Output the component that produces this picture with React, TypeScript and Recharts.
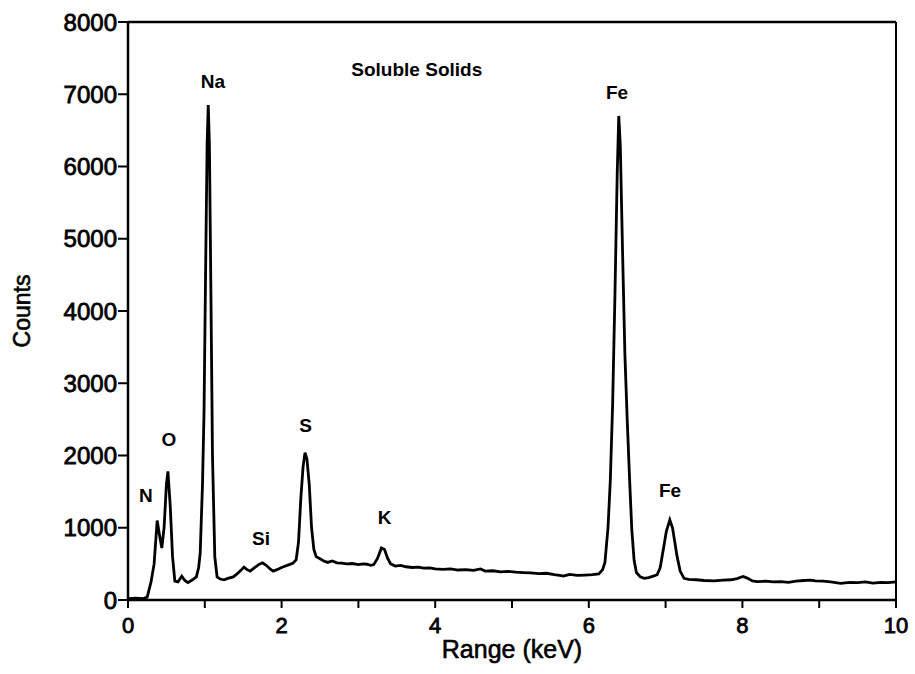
import {
  LineChart,
  Line,
  XAxis,
  YAxis,
  ReferenceLine,
  ReferenceDot,
} from "recharts";

// EDS spectrum of the soluble solids, energy (keV) against counts
const energy = [
  0.0, 0.1, 0.2, 0.25, 0.3, 0.34, 0.38, 0.41, 0.44, 0.47, 0.5, 0.52, 0.55,
  0.58, 0.61, 0.65, 0.7, 0.74, 0.78, 0.84, 0.89, 0.92, 0.94, 0.97, 0.99, 1.01,
  1.03, 1.045, 1.06, 1.08, 1.1, 1.13, 1.16, 1.2, 1.25, 1.3, 1.37, 1.42, 1.47,
  1.51, 1.55, 1.59, 1.64, 1.7, 1.75, 1.8, 1.85, 1.89, 1.94, 2.0, 2.05, 2.1,
  2.15, 2.19, 2.22, 2.25, 2.28, 2.305, 2.33, 2.36, 2.39, 2.42, 2.45, 2.5, 2.55,
  2.6, 2.66, 2.72, 2.78, 2.85, 2.92, 3.0, 3.06, 3.11, 3.16, 3.2, 3.25, 3.3,
  3.34, 3.38, 3.42, 3.48, 3.55, 3.62, 3.7, 3.78, 3.85, 3.93, 4.0, 4.1, 4.2,
  4.3, 4.4, 4.5, 4.59, 4.65, 4.75, 4.85, 4.95, 5.05, 5.15, 5.24, 5.35, 5.45,
  5.55, 5.62, 5.67, 5.75, 5.85, 5.95, 6.05, 6.13, 6.18, 6.21, 6.25, 6.28, 6.31,
  6.34, 6.37, 6.39, 6.41, 6.44, 6.47, 6.5, 6.53, 6.56, 6.59, 6.62, 6.67, 6.72,
  6.78, 6.84, 6.89, 6.93, 6.97, 7.01, 7.055, 7.09, 7.12, 7.15, 7.19, 7.24, 7.3,
  7.4, 7.5, 7.63, 7.75, 7.85, 7.93, 8.01, 8.07, 8.13, 8.19, 8.3, 8.4, 8.5, 8.6,
  8.7, 8.8, 8.89, 8.95, 9.05, 9.15, 9.28, 9.4, 9.5, 9.6, 9.7, 9.8, 9.9, 10.0,
];

const counts = [
  20, 25, 20, 40, 250, 500, 1100, 900, 720, 1000, 1600, 1780, 1300, 600, 260,
  250, 330, 270, 240, 280, 320, 450, 650, 1600, 2600, 4500, 6300, 6850, 6300,
  4200, 2000, 600, 320, 290, 280, 300, 320, 360, 410, 455, 420, 400, 440, 490,
  515, 480, 430, 400, 420, 450, 470, 490, 510, 560, 800, 1400, 1850, 2040, 1950,
  1600, 1000, 700, 600, 570, 540, 520, 540, 515, 510, 500, 505, 490, 500, 495,
  480, 490, 580, 720, 700, 580, 500, 470, 480, 460, 450, 455, 440, 445, 430,
  425, 430, 415, 420, 410, 430, 400, 405, 390, 395, 385, 380, 375, 365, 370,
  350, 340, 330, 355, 340, 345, 350, 360, 420, 520, 1000, 1650, 2700, 4200,
  5900, 6700, 6300, 4800, 3400, 2500, 1700, 970, 550, 380, 320, 300, 310, 330,
  350, 450, 700, 950, 1110, 1000, 800, 600, 400, 300, 285, 280, 270, 265, 275,
  280, 295, 325, 300, 265, 255, 260, 250, 255, 245, 260, 270, 275, 265, 260,
  250, 230, 245, 240, 250, 235, 245, 240, 250,
];

const xTicks = [0, 1, 2, 3, 4, 5, 6, 7, 8, 9, 10];
const yTicks = [0, 1000, 2000, 3000, 4000, 5000, 6000, 7000, 8000];

// element names written beside their peaks (keV, counts)
const peakLabels = [
  { name: "N", kev: 0.234, count: 1453 },
  { name: "O", kev: 0.531, count: 2215 },
  { name: "Na", kev: 1.107, count: 7177 },
  { name: "Si", kev: 1.732, count: 848 },
  { name: "S", kev: 2.311, count: 2422 },
  { name: "K", kev: 3.342, count: 1135 },
  { name: "Fe", kev: 6.367, count: 7031 },
  { name: "Fe", kev: 7.057, count: 1522 },
];

const title = { text: "Soluble Solids", kev: 3.76, count: 7349 };

const FONT = "'Liberation Sans', Arial, Helvetica, sans-serif";

const data = energy.map((kev, i) => ({ kev, counts: counts[i] }));

function PeakText({ viewBox, value, size }: any) {
  const cx = viewBox.x + viewBox.width / 2;
  const cy = viewBox.y + viewBox.height / 2;
  return (
    <text
      x={cx}
      y={cy}
      textAnchor="middle"
      dominantBaseline="central"
      fontFamily={FONT}
      fontWeight="bold"
      fontSize={size}
      fill="#000"
    >
      {value}
    </text>
  );
}

export default function App() {
  return (
    <div style={{ position: "absolute", left: 0, top: 0, background: "#fff" }}>
      <LineChart
        width={915}
        height={674}
        data={data}
        margin={{ top: 22, right: 19, bottom: 0, left: 0 }}
      >
        <XAxis
          dataKey="kev"
          type="number"
          domain={[0, 10]}
          ticks={xTicks}
          tickFormatter={(v: number) => (v % 2 === 0 ? String(v) : "")}
          interval={0}
          height={74}
          tickSize={8}
          tickMargin={9}
          axisLine={{ stroke: "#000", strokeWidth: 2.5 }}
          tickLine={{ stroke: "#000", strokeWidth: 2 }}
          tick={{
            fill: "#000",
            fontSize: 22,
            fontFamily: FONT,
            stroke: "#000",
            strokeWidth: 0.8,
          }}
          label={{
            value: "Range (keV)",
            position: "insideBottom",
            offset: 16,
            fill: "#000",
            fontSize: 25,
            fontFamily: FONT,
            stroke: "#000",
            strokeWidth: 0.6,
          }}
        />
        <YAxis
          type="number"
          domain={[0, 8000]}
          ticks={yTicks}
          interval={0}
          width={128}
          tickSize={10}
          tickMargin={1}
          axisLine={{ stroke: "#000", strokeWidth: 2.5 }}
          tickLine={{ stroke: "#000", strokeWidth: 2 }}
          tick={{
            fill: "#000",
            fontSize: 24,
            fontFamily: FONT,
            stroke: "#000",
            strokeWidth: 0.8,
          }}
          label={{
            value: "Counts",
            angle: -90,
            position: "insideLeft",
            offset: 22,
            fill: "#000",
            fontSize: 23,
            fontFamily: FONT,
            stroke: "#000",
            strokeWidth: 0.6,
            style: { textAnchor: "middle" },
          }}
        />
        {/* frame: top and right edges */}
        <ReferenceLine y={8000} stroke="#000" strokeWidth={2.5} />
        <ReferenceLine x={10} stroke="#000" strokeWidth={2} />
        <Line
          type="linear"
          dataKey="counts"
          stroke="#000"
          strokeWidth={2.8}
          dot={false}
          isAnimationActive={false}
        />
        <ReferenceDot
          x={title.kev}
          y={title.count}
          r={0}
          stroke="none"
          fill="none"
          label={<PeakText value={title.text} size={19} />}
        />
        {peakLabels.map((p, i) => (
          <ReferenceDot
            key={i}
            x={p.kev}
            y={p.count}
            r={0}
            stroke="none"
            fill="none"
            label={<PeakText value={p.name} size={19} />}
          />
        ))}
      </LineChart>
    </div>
  );
}
